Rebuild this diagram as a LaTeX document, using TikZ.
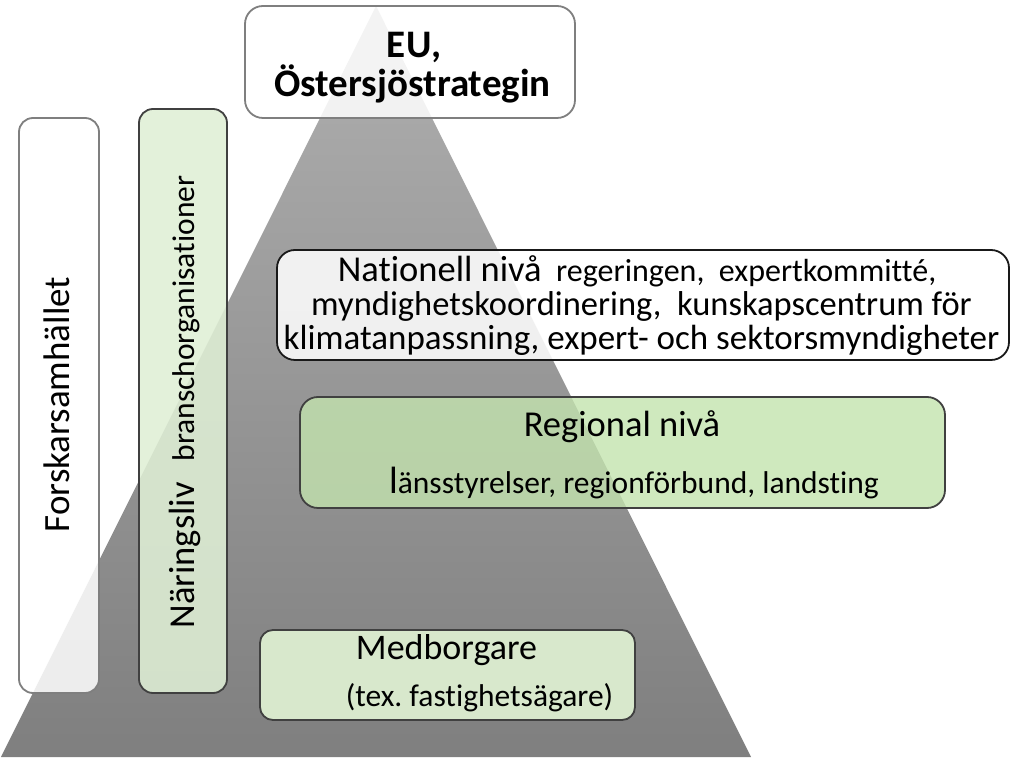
\documentclass[tikz,border=0pt]{standalone}
\usepackage{fontspec}
\setmainfont{Carlito}[Ligatures=NoCommon]
\frenchspacing
\definecolor{pyrtop}{HTML}{AFAFAF}
\definecolor{pyrbot}{HTML}{7F7F7F}
\definecolor{lgreen}{HTML}{DFEFD5}
\definecolor{mgreen}{HTML}{C3E3AE}
\definecolor{mbgreen}{HTML}{D8E8CC}
\definecolor{bordgray}{HTML}{404040}
\definecolor{lightbord}{HTML}{7F7F7F}
\newcommand{\fs}[1]{\fontsize{#1}{#1}\selectfont}
\tikzset{
  x=1pt, y=1pt,
  box/.style={draw=bordgray, line width=1.8pt, rounded corners=16pt, inner sep=0pt},
  whitebox/.style={box, fill=white, fill opacity=0.86},
  txt/.style={inner sep=0pt, text=black},
  bl/.style={txt, anchor=base},
}
\begin{document}
\begin{tikzpicture}
\useasboundingbox (0,0) rectangle (1011,757);
% pyramid
\coordinate (apex) at (376,751);
\coordinate (pl) at (1,0);
\coordinate (pr) at (751,0);
\shade[top color=pyrtop, bottom color=pyrbot] (pl) -- (apex) -- (pr) -- cycle;

% EU box
\node[whitebox, draw=lightbord, minimum width=330pt, minimum height=112pt, rounded corners=18pt] (eu) at (410,695) {};
\node[bl, font=\fs{39}\bfseries] (eu1) at (414,699) {EU,};
\node[bl, font=\fs{39}\bfseries] (eu2) at (412.5,660) {Östersjöstrategin};

% Forskarsamhället
\node[whitebox, draw=lightbord, minimum width=80pt, minimum height=575pt, rounded corners=14pt] (forsk) at (59,351.5) {};
\node[txt, rotate=90, font=\fs{37}] (forskt) at (57,352.5) {Forskarsamhället};

% Näringsliv
\node[box, fill=lgreen, fill opacity=0.88, minimum width=88pt, minimum height=584pt, rounded corners=14pt] (nar) at (183,356) {};
\node[txt, rotate=90] (nart) at (185,355) {\fs{36.5}Näringsliv\hspace{21pt}\fs{31.5}branschorganisationer};

% Nationell nivå
\node[whitebox, draw=black!90, minimum width=732pt, minimum height=110pt, rounded corners=18pt] (nat) at (643,452) {};
\node[bl] (nat1) at (637,475) {\fs{36.5}Nationell nivå\fs{32}\ \ regeringen,\ \ expertkommitté,};
\node[bl, font=\fs{34.5}] (nat2) at (641.5,441) {myndighetskoordinering,\ \ kunskapscentrum för};
\node[bl, font=\fs{35}] (nat3) at (641.5,407) {klimatanpassning, expert- och sektorsmyndigheter};

% Regional nivå
\node[box, fill=mgreen, fill opacity=0.8, minimum width=645pt, minimum height=111pt, rounded corners=18pt] (reg) at (622.5,304.5) {};
\node[bl, font=\fs{36.5}] (regt) at (622,320) {Regional nivå};
\node[bl] (regs) at (634,263) {\fs{38}l\fs{31.5}änsstyrelser, regionförbund, landsting};

% Medborgare
\node[box, fill=mbgreen, minimum width=375pt, minimum height=90pt, rounded corners=13pt] (med) at (447.5,82) {};
\node[bl, font=\fs{36}] (medt) at (446.5,97) {Medborgare};
\node[bl, font=\fs{31.5}] (meds) at (479.5,50) {(tex. fastighetsägare)};
\end{tikzpicture}
\end{document}
